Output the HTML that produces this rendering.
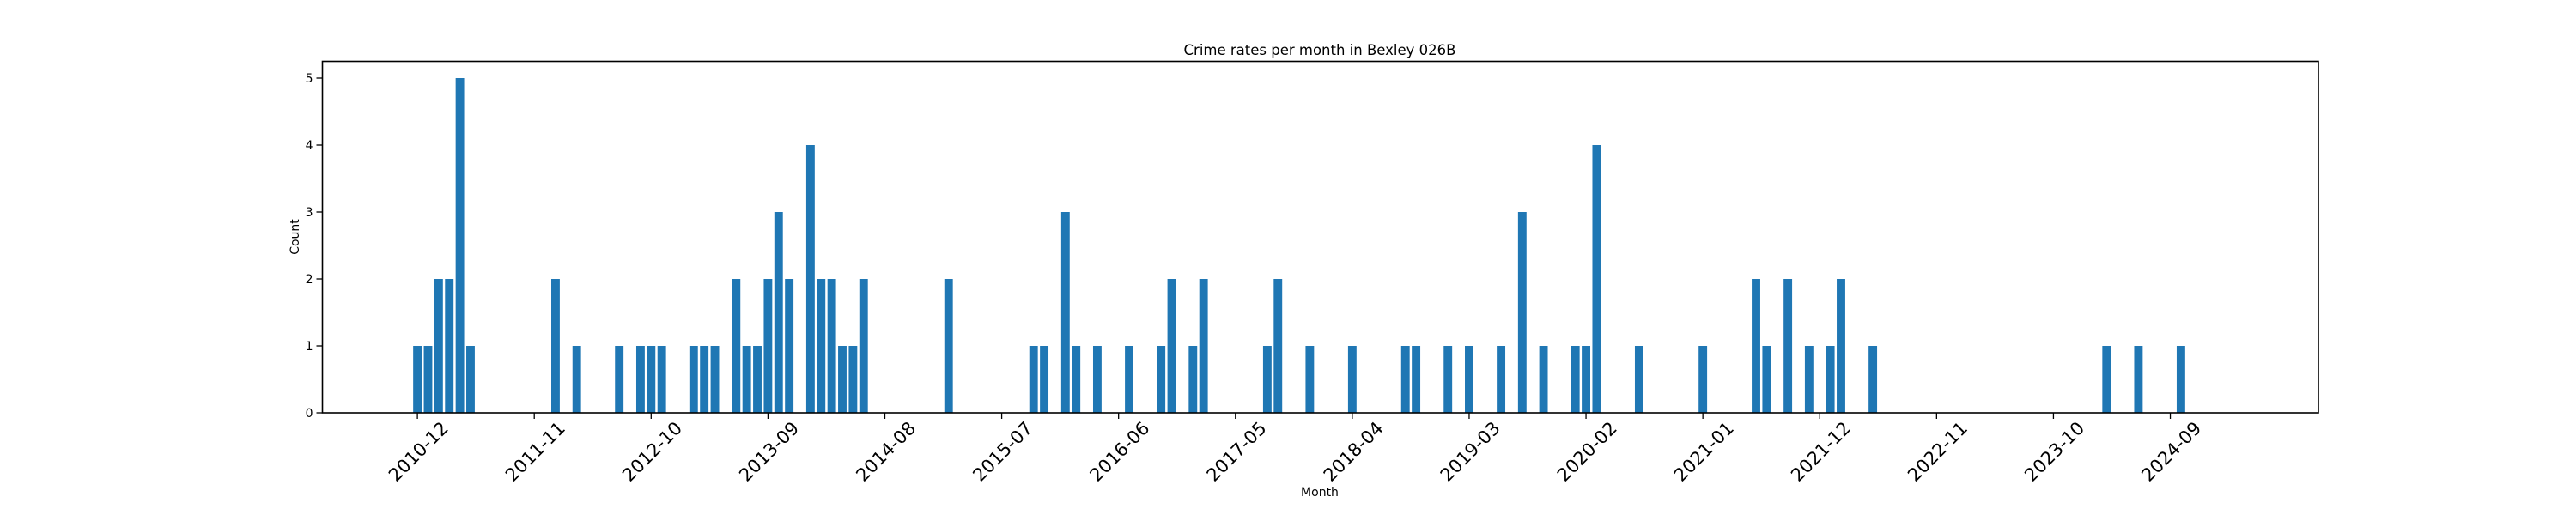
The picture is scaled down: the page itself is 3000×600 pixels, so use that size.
<!DOCTYPE html>
<html><head><meta charset="utf-8"><style>
html,body{margin:0;padding:0;background:#fff}
svg{display:block;font-family:"DejaVu Sans","Liberation Sans",sans-serif}
</style></head><body>
<svg id="chart" width="3000" height="600" viewBox="0 0 3000 600" xmlns="http://www.w3.org/2000/svg">
<rect width="3000" height="600" fill="#fff"/>
<text x="1537" y="64" font-size="16.5" text-anchor="middle">Crime rates per month in Bexley 026B</text>
<g id="bars"></g>
<g id="xaxis"></g>
<g id="yaxis"></g>
<rect x="375.5" y="71.5" width="2324.5" height="409.5" fill="none" stroke="#000" stroke-width="1.6"/>
<text x="1537" y="578" font-size="14" text-anchor="middle">Month</text>
<text x="0" y="0" font-size="14" text-anchor="middle" transform="translate(348,276) rotate(-90)">Count</text>
</svg>
<script>
const startYear = 2010, startMonth = 12, monthCount = 171;
const nonZeroIndex = [0,1,2,3,4,5,13,15,19,21,22,23,26,27,28,30,31,32,33,34,35,37,38,39,40,41,42,50,58,59,61,62,64,67,70,71,73,74,80,81,84,88,93,94,97,99,102,104,106,109,110,111,115,121,126,127,129,131,133,134,137,159,162,166];
const nonZeroCount = [1,1,2,2,5,1,2,1,1,1,1,1,1,1,1,2,1,1,2,3,2,4,2,2,1,1,2,2,1,1,3,1,1,1,1,2,1,2,1,2,1,1,1,1,1,1,1,3,1,1,1,4,1,1,2,1,2,1,1,2,1,1,1,1];
const yTicks = [0,1,2,3,4,5];
const tickEvery = 11;

const months = [];
for (let i = 0; i < monthCount; i++) {
  const m0 = startMonth - 1 + i;
  const y = startYear + Math.floor(m0 / 12), m = m0 % 12 + 1;
  months.push(y + '-' + String(m).padStart(2, '0'));
}
const counts = new Array(monthCount).fill(0);
nonZeroIndex.forEach((idx, k) => { counts[idx] = nonZeroCount[k]; });

const NS = 'http://www.w3.org/2000/svg';
const L = 375.5, R = 2700, T = 71.5, B = 481;
const span = (monthCount - 0.2) * 1.1;
const x0 = -0.4 - 0.05 * (monthCount - 0.2);
const xs = i => L + (i - x0) / span * (R - L);
const yMax = 5.25;
const ys = v => B - v / yMax * (B - T);
const bw = 0.8 * (R - L) / span;

const bars = document.getElementById('bars');
counts.forEach((v, i) => {
  if (v <= 0) return;
  const r = document.createElementNS(NS, 'rect');
  
  
  r.setAttribute('x', xs(i) - bw / 2);
  r.setAttribute('y', ys(v));
  r.setAttribute('width', bw);
  r.setAttribute('height', B - ys(v));
  r.setAttribute('fill', '#1f77b4');
  bars.appendChild(r);
});

const xa = document.getElementById('xaxis');
for (let i = 0; i < monthCount; i += tickEvery) {
  const x = xs(i);
  const t = document.createElementNS(NS, 'line');
  
  
  t.setAttribute('x1', x); t.setAttribute('x2', x);
  t.setAttribute('y1', B); t.setAttribute('y2', B + 7);
  t.setAttribute('stroke', '#000'); t.setAttribute('stroke-width', '1.3');
  xa.appendChild(t);
  const tx = document.createElementNS(NS, 'text');
  
  
  tx.setAttribute('font-size', '21');
  tx.setAttribute('text-anchor', 'middle');
  tx.setAttribute('dominant-baseline', 'middle');
  tx.setAttribute('transform', 'translate(' + (x + 2) + ',527) rotate(-45)');
  tx.textContent = months[i];
  xa.appendChild(tx);
}

const ya = document.getElementById('yaxis');
yTicks.forEach(v => {
  const y = ys(v);
  const t = document.createElementNS(NS, 'line');
  
  
  t.setAttribute('x1', L - 7); t.setAttribute('x2', L);
  t.setAttribute('y1', y); t.setAttribute('y2', y);
  t.setAttribute('stroke', '#000'); t.setAttribute('stroke-width', '1.3');
  ya.appendChild(t);
  const tx = document.createElementNS(NS, 'text');
  
  
  tx.setAttribute('x', L - 11);
  tx.setAttribute('y', y + 5);
  tx.setAttribute('font-size', '14');
  tx.setAttribute('text-anchor', 'end');
  tx.textContent = v;
  ya.appendChild(tx);
});
</script>
</body></html>
